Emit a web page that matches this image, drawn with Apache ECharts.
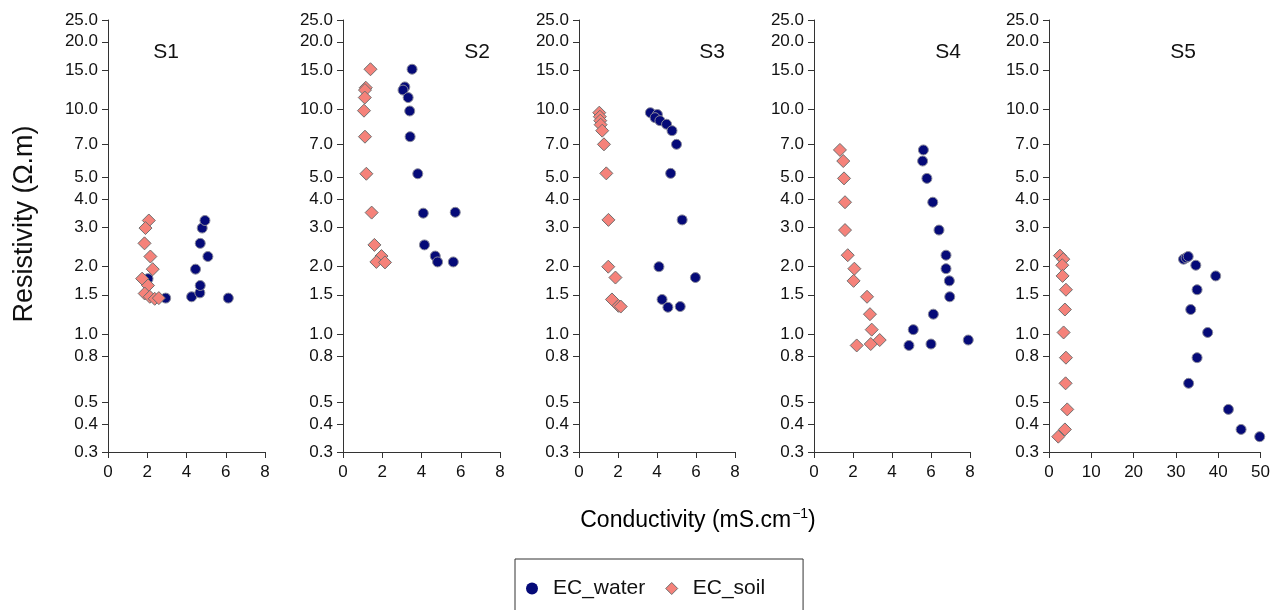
<!DOCTYPE html>
<html>
<head>
<meta charset="utf-8">
<style>
  html, body { margin: 0; padding: 0; background: #fff; }
  #chart { width: 1273px; height: 610px; }
</style>
<script src="https://cdn.jsdelivr.net/npm/echarts@6/dist/echarts.min.js"></script>
</head>
<body>
<div id="chart"></div>
<script>
// [conductivity, resistivity] per site
var s1Water = [[2.04, 1.77], [2.94, 1.45], [4.26, 1.47], [4.68, 1.53], [4.70, 1.65], [4.46, 1.95],
    [5.09, 2.22], [4.70, 2.54], [4.80, 2.97], [4.94, 3.21], [6.13, 1.45]];
var s1Soil = [[2.08, 3.21], [1.91, 2.97], [1.86, 2.54], [2.16, 2.22], [2.28, 1.95], [1.74, 1.77],
    [2.04, 1.65], [1.87, 1.52], [2.13, 1.47], [2.38, 1.44], [2.59, 1.45]];

var s2Water = [[3.52, 15.1], [3.15, 12.6], [3.06, 12.2], [3.32, 11.3], [3.40, 9.85], [3.42, 7.57],
    [3.81, 5.18], [4.09, 3.46], [5.72, 3.49], [4.15, 2.50], [4.70, 2.23], [4.82, 2.10], [5.62, 2.10]];
var s2Soil = [[1.40, 15.1], [1.16, 12.5], [1.12, 12.2], [1.11, 11.3], [1.07, 9.88], [1.12, 7.57],
    [1.19, 5.18], [1.46, 3.48], [1.60, 2.50], [1.96, 2.23], [1.70, 2.10], [2.14, 2.09]];

var s3Water = [[3.66, 9.68], [4.02, 9.5], [3.90, 9.2], [4.15, 8.92], [4.49, 8.6], [4.77, 8.05],
    [5.00, 7.0], [4.70, 5.20], [5.29, 3.23], [4.10, 2.00], [5.97, 1.79], [4.26, 1.43], [4.56, 1.32], [5.19, 1.33]];
var s3Soil = [[1.04, 9.68], [1.07, 9.29], [1.09, 8.92], [1.11, 8.56], [1.19, 8.05], [1.28, 7.00],
    [1.40, 5.20], [1.51, 3.23], [1.50, 2.00], [1.87, 1.79], [1.69, 1.43], [2.02, 1.34], [2.14, 1.33]];

var s4Water = [[5.61, 6.61], [5.57, 5.90], [5.79, 4.94], [6.09, 3.87], [6.41, 2.91], [6.77, 2.25],
    [6.77, 1.96], [6.94, 1.73], [6.96, 1.47], [6.12, 1.23], [5.09, 1.05], [4.87, 0.893], [6.0, 0.906], [7.91, 0.944]];
var s4Soil = [[1.33, 6.61], [1.50, 5.90], [1.54, 4.94], [1.59, 3.87], [1.59, 2.91], [1.73, 2.25],
    [2.07, 1.96], [2.03, 1.73], [2.72, 1.47], [2.87, 1.23], [2.96, 1.05], [2.19, 0.893], [2.91, 0.906], [3.37, 0.944]];

var s5Water = [[31.8, 2.16], [32.4, 2.19], [32.9, 2.22], [34.7, 2.03], [39.4, 1.82], [35.0, 1.58],
    [33.5, 1.29], [37.5, 1.02], [35.0, 0.788], [33.0, 0.606], [42.4, 0.464], [45.4, 0.378], [49.8, 0.351]];
var s5Soil = [[2.59, 2.24], [3.37, 2.16], [3.13, 2.03], [3.21, 1.82], [4.0, 1.58], [3.76, 1.29],
    [3.45, 1.02], [4.0, 0.788], [3.92, 0.606], [4.31, 0.464], [3.76, 0.378], [2.19, 0.351]];

var siteNames = ['S1', 'S2', 'S3', 'S4', 'S5'];
var waterData = [s1Water, s2Water, s3Water, s4Water, s5Water];
var soilData = [s1Soil, s2Soil, s3Soil, s4Soil, s5Soil];
var xMax = [8, 8, 8, 8, 50];
var xStep = [2, 2, 2, 2, 10];
var yTicks = [0.3, 0.4, 0.5, 0.8, 1.0, 1.5, 2.0, 3.0, 4.0, 5.0, 7.0, 10.0, 15.0, 20.0, 25.0];

var font = '"Liberation Sans", Arial, sans-serif';
var axisColor = '#333';
var waterColor = '#050a78';
var soilColor = '#f5827a';

// panel boxes in px
var gridLeft = [108, 343, 579, 814, 1049];
var gridWidth = [157, 157, 156, 156, 213];
var titleX = [166, 477, 712, 948, 1183];

var grids = [], xAxes = [], yAxes = [], series = [], graphics = [];
for (var i = 0; i < 5; i++) {
    grids.push({left: gridLeft[i], width: gridWidth[i], top: 20, height: 432});
    xAxes.push({
        type: 'value', gridIndex: i, min: 0, max: xMax[i], interval: xStep[i],
        axisLine: {onZero: false, lineStyle: {color: axisColor, width: 1}},
        axisTick: {inside: false, length: 6, lineStyle: {color: axisColor}},
        axisLabel: {color: '#111', fontSize: 17, fontFamily: font, margin: 12},
        splitLine: {show: false}
    });
    yAxes.push({
        type: 'log', logBase: 10, gridIndex: i, min: 0.3, max: 25,
        axisLine: {show: true, lineStyle: {color: axisColor, width: 1}},
        axisTick: {show: true, length: 6, customValues: yTicks, lineStyle: {color: axisColor}},
        axisLabel: {
            color: '#111', fontSize: 17, fontFamily: font, margin: 10,
            customValues: yTicks,
            formatter: function (v) { return Number(v).toFixed(1); }
        },
        splitLine: {show: false},
        minorTick: {show: false}
    });
    series.push({
        name: 'EC_water', type: 'scatter', xAxisIndex: i, yAxisIndex: i,
        symbol: 'circle', symbolSize: 10,
        itemStyle: {color: waterColor, opacity: 1, borderColor: '#8a8a9a', borderWidth: 1},
        data: waterData[i]
    });
    series.push({
        name: 'EC_soil', type: 'scatter', xAxisIndex: i, yAxisIndex: i,
        symbol: 'diamond', symbolSize: 13,
        itemStyle: {color: soilColor, opacity: 1, borderColor: '#6f6f6f', borderWidth: 1},
        data: soilData[i]
    });
    graphics.push({
        type: 'text', x: titleX[i], y: 52,
        style: {text: siteNames[i], font: '21px ' + font, fill: '#111', align: 'center', verticalAlign: 'middle'}
    });
}

graphics.push({
    type: 'text', x: 25, y: 224, rotation: Math.PI / 2,
    style: {text: 'Resistivity (Ω.m)', font: '27px ' + font, fill: '#111', align: 'center', verticalAlign: 'middle'}
});
graphics.push({
    type: 'text', x: 698, y: 521,
    style: {
        text: '{a|Conductivity (mS.cm}{s|−1}{a|)}',
        align: 'center', verticalAlign: 'middle',
        rich: {
            a: {fontSize: 23, fontFamily: font, color: '#111'},
            s: {fontSize: 14, fontFamily: font, color: '#111', padding: [0, 0, 14, 1]}
        }
    }
});

var option = {
    backgroundColor: '#fff',
    animation: false,
    legend: {
        left: 515, top: 559,
        orient: 'horizontal',
        padding: [19, 38, 40, 11],
        borderColor: '#333', borderWidth: 1,
        itemWidth: 12, itemHeight: 12, itemGap: 20,
        textStyle: {fontSize: 21, fontFamily: font, color: '#111', padding: [0, 0, 0, 10]},
        data: [
            {name: 'EC_water', icon: 'circle', itemStyle: {color: waterColor, opacity: 1, borderWidth: 0}},
            {name: 'EC_soil', icon: 'diamond', itemStyle: {color: soilColor, opacity: 1, borderColor: '#6f6f6f', borderWidth: 1}}
        ]
    },
    graphic: graphics,
    grid: grids,
    xAxis: xAxes,
    yAxis: yAxes,
    series: series
};

var chart = echarts.init(document.getElementById('chart'));
chart.setOption(option);
</script>
</body>
</html>
